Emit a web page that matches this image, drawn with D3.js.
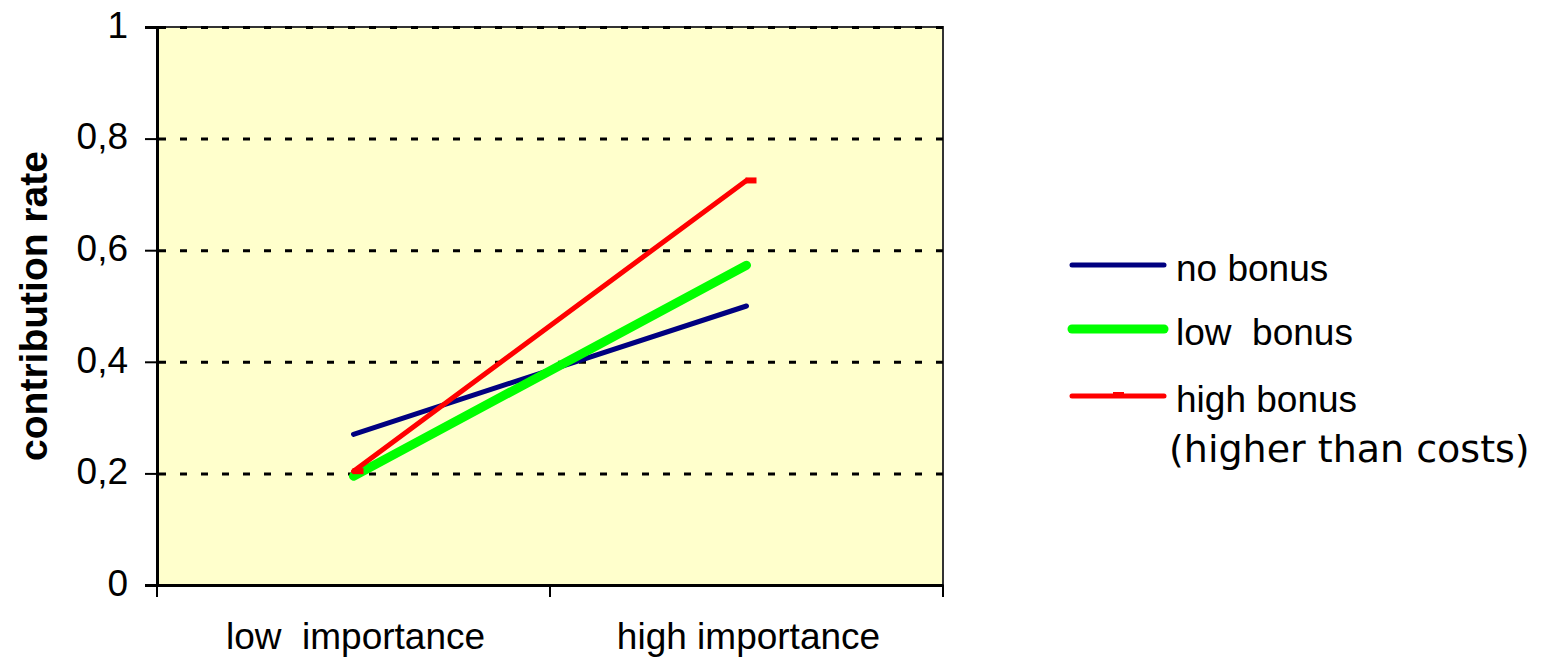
<!DOCTYPE html>
<html>
<head>
<meta charset="utf-8">
<script src="https://cdn.jsdelivr.net/npm/d3@7"></script>
<style>
  body { margin: 0; background: #fff; }
  text { font-family: "Liberation Sans", Arial, sans-serif; fill: #000; }
</style>
</head>
<body>
<svg id="chart"></svg>
<script>
// data
const categories = ['low  importance', 'high importance'];
const seriesNames = ['no bonus', 'low  bonus', 'high bonus'];
const noBonus = [0.27, 0.50];
const lowBonus = [0.195, 0.573];
const highBonus = [0.204, 0.725];
const yTicks = [0, 0.2, 0.4, 0.6, 0.8, 1];

const width = 1550, height = 661;
const margin = {left: 157, right: 607, top: 27, bottom: 76};

const svg = d3.select('#chart')
  .attr('width', width)
  .attr('height', height);

const x = d3.scaleBand()
  .domain(categories)
  .range([margin.left, width - margin.right]);
const y = d3.scaleLinear()
  .domain([0, 1])
  .range([height - margin.bottom, margin.top]);

// plot background
svg.append('rect')
  .attr('x', margin.left)
  .attr('y', margin.top)
  .attr('width', width - margin.left - margin.right)
  .attr('height', height - margin.top - margin.bottom)
  .attr('fill', '#ffffcc')
  .attr('stroke', '#333')
  .attr('stroke-width', 2);

// dotted gridlines
svg.append('g')
  .selectAll('line')
  .data(yTicks.filter(d => d > 0))
  .enter()
  .append('line')
  .attr('x1', margin.left + 2)
  .attr('x2', width - margin.right)
  .attr('y1', d => y(d) + 0.5)
  .attr('y2', d => y(d) + 0.5)
  .attr('stroke', '#000')
  .attr('stroke-width', 3)
  .attr('stroke-dasharray', '7,14');

// y axis
const yAxis = svg.append('g')
  .attr('transform', `translate(${margin.left},0)`)
  .call(d3.axisLeft(y).tickValues(yTicks).tickSize(12).tickPadding(17)
    .tickFormat(d => d3.format('.1~f')(d).replace('.', ',')));
yAxis.select('.domain').attr('stroke', '#000').attr('stroke-width', 3);
yAxis.selectAll('.tick line').attr('stroke', '#000').attr('stroke-width', 2);
yAxis.selectAll('.tick text')
  .style('font-family', '"Liberation Sans", Arial, sans-serif')
  .attr('font-size', 37)
  .attr('dy', '0.28em');

// x axis
const xAxis = svg.append('g')
  .attr('transform', `translate(0,${height - margin.bottom})`)
  .call(d3.axisBottom(x).tickSize(0).tickPadding(0).tickFormat(''));
xAxis.select('.domain').attr('stroke', '#000').attr('stroke-width', 3);
const xEdges = [x.range()[0], ...categories.map(c => x(c) + x.bandwidth())];
xAxis.selectAll('.edge')
  .data(xEdges)
  .enter()
  .append('line')
  .attr('x1', d => d).attr('x2', d => d)
  .attr('y1', 0).attr('y2', 12)
  .attr('stroke', '#000')
  .attr('stroke-width', 2);
xAxis.selectAll('.cat')
  .data(categories)
  .enter()
  .append('text')
  .attr('x', d => x(d) + x.bandwidth() / 2 + 2)
  .attr('y', 64)
  .attr('text-anchor', 'middle')
  .attr('font-size', 37)
  .attr('xml:space', 'preserve')
  .text(d => d);

// y axis title
svg.append('text')
  .attr('transform', `translate(47,${(margin.top + height - margin.bottom) / 2}) rotate(-90)`)
  .attr('text-anchor', 'middle')
  .attr('font-size', 39)
  .attr('font-weight', 'bold')
  .text('contribution rate');

// series lines
const series = [
  {name: seriesNames[0], values: noBonus, color: '#000080', w: 5},
  {name: seriesNames[1], values: lowBonus, color: '#00ff00', w: 9},
  {name: seriesNames[2], values: highBonus, color: '#ff0000', w: 5, marker: true}
];
const cx = c => x(c) + x.bandwidth() / 2;
const line = d3.line()
  .x((d, i) => cx(categories[i]))
  .y(d => y(d));

svg.append('g')
  .selectAll('path')
  .data(series)
  .enter()
  .append('path')
  .attr('d', d => line(d.values))
  .attr('fill', 'none')
  .attr('stroke', d => d.color)
  .attr('stroke-width', d => d.w)
  .attr('stroke-linecap', 'round');

// dash markers on the red series
svg.append('g')
  .selectAll('line')
  .data(highBonus)
  .enter()
  .append('line')
  .attr('x1', (d, i) => cx(categories[i]) - 1)
  .attr('x2', (d, i) => cx(categories[i]) + 10)
  .attr('y1', d => y(d))
  .attr('y2', d => y(d))
  .attr('stroke', '#ff0000')
  .attr('stroke-width', 6);

// legend
const legendY = [265, 329, 396];
const legend = svg.append('g');
series.forEach((s, i) => {
  legend.append('line')
    .attr('x1', 1072).attr('x2', 1164)
    .attr('y1', legendY[i]).attr('y2', legendY[i])
    .attr('stroke', s.color)
    .attr('stroke-width', s.w)
    .attr('stroke-linecap', 'round');
  if (s.marker) {
    legend.append('line')
      .attr('x1', 1113).attr('x2', 1124)
      .attr('y1', legendY[i] - 2).attr('y2', legendY[i] - 2)
      .attr('stroke', s.color).attr('stroke-width', 4);
  }
  legend.append('text')
    .attr('x', 1176)
    .attr('y', legendY[i] + 16)
    .attr('font-size', 37)
    .attr('xml:space', 'preserve')
    .text(s.name);
});
legend.append('text')
  .attr('x', 1169)
  .attr('y', 462)
  .attr('font-size', 38)
  .style('font-family', '"DejaVu Sans", Verdana, sans-serif')
  .text('(higher than costs)');
</script>
</body>
</html>
